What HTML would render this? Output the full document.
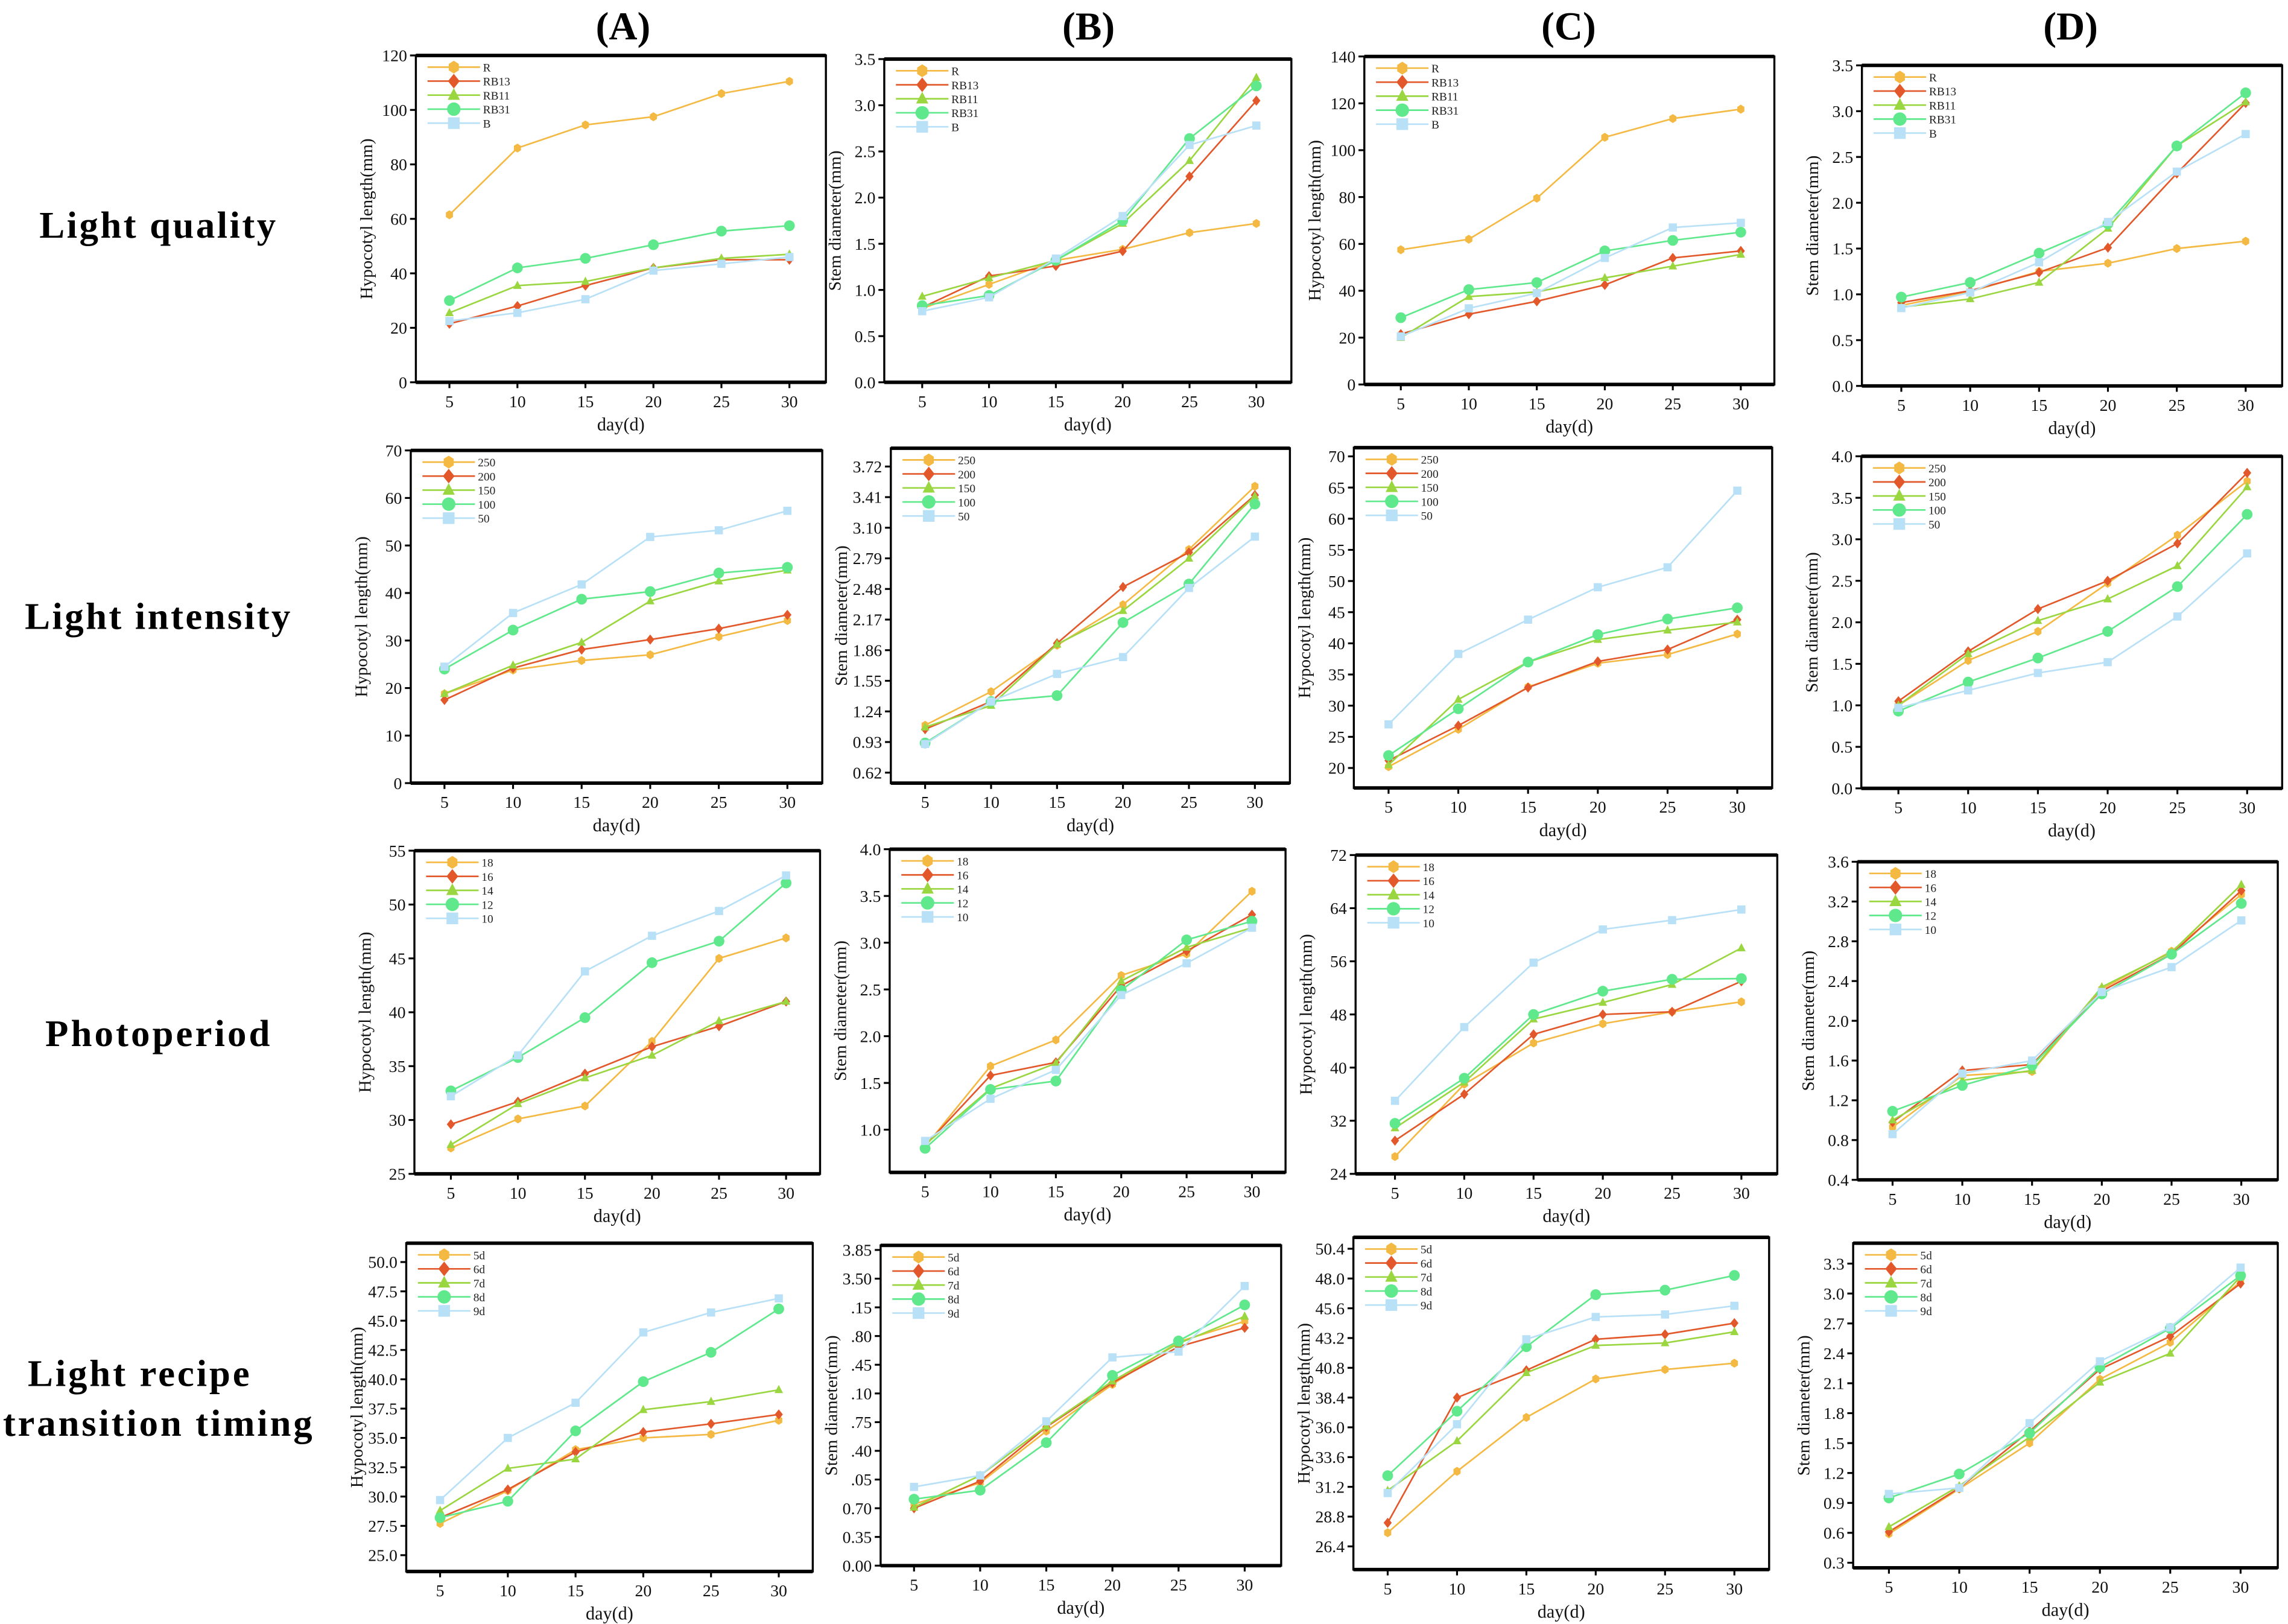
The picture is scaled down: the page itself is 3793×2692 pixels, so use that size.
<!DOCTYPE html>
<html><head><meta charset="utf-8"><style>
html,body{margin:0;padding:0;background:#fff;}
svg{display:block;}
</style></head><body>
<svg id="fig" xmlns="http://www.w3.org/2000/svg" width="3793" height="2692" viewBox="0 0 1568 1113" preserveAspectRatio="none">
<rect x="0" y="0" width="1568" height="1113" fill="#fff"/>
<g font-family="Liberation Serif, serif" font-weight="bold" fill="#000">
<text x="427" y="27" font-size="27" text-anchor="middle">(A)</text>
<text x="746" y="27" font-size="27" text-anchor="middle">(B)</text>
<text x="1075" y="27" font-size="27" text-anchor="middle">(C)</text>
<text x="1419" y="27" font-size="27" text-anchor="middle">(D)</text>
<text x="108" y="163" font-size="26" text-anchor="middle" textLength="162">Light quality</text>
<text x="108" y="431" font-size="26" text-anchor="middle" textLength="182">Light intensity</text>
<text x="108" y="717" font-size="26" text-anchor="middle" textLength="154">Photoperiod</text>
<text x="95" y="950" font-size="26" text-anchor="middle" textLength="152">Light recipe</text>
<text x="108" y="984" font-size="26" text-anchor="middle" textLength="212">transition timing</text>
</g>
<g id="charts"></g>
</svg>
<script>
// ===== shared categories =====
const days = [5, 10, 15, 20, 25, 30];
const colors = ['#f4b942', '#e2582a', '#9ad640', '#5fe88c', '#b8e0f6'];
const legend_quality = ['R', 'RB13', 'RB11', 'RB31', 'B'];
const legend_intensity = ['250', '200', '150', '100', '50'];
const legend_photo = ['18', '16', '14', '12', '10'];
const legend_timing = ['5d', '6d', '7d', '8d', '9d'];

// ===== Row 1: light quality =====
const q_hyp1 = [[61.5,86,94.5,97.5,106,110.5],[21.5,28,35.5,42,45,45],[25.5,35.5,37,42,45.5,47],[30,42,45.5,50.5,55.5,57.5],[22.5,25.5,30.5,41,43.5,46]];
const q_hyp1_ticks = ['0','20','40','60','80','100','120'];
const q_stem1 = [[0.80,1.06,1.32,1.44,1.62,1.72],[0.81,1.15,1.26,1.42,2.23,3.05],[0.93,1.13,1.32,1.72,2.40,3.30],[0.83,0.94,1.32,1.75,2.64,3.21],[0.77,0.92,1.34,1.80,2.57,2.78]];
const q_stem1_ticks = ['0.0','0.5','1.0','1.5','2.0','2.5','3.0','3.5'];
const q_hyp2 = [[57.5,62,79.5,105.5,113.5,117.5],[21.5,30,35.5,42.5,54,57],[20,37.5,39.5,45.5,50.5,55.5],[28.5,40.5,43.5,57,61.5,65],[20.5,32.5,39,54,67,69]];
const q_hyp2_ticks = ['0','20','40','60','80','100','120','140'];
const q_stem2 = [[0.88,1.03,1.25,1.34,1.50,1.58],[0.91,1.04,1.24,1.51,2.32,3.09],[0.86,0.95,1.13,1.72,2.62,3.10],[0.97,1.13,1.45,1.77,2.62,3.20],[0.85,1.02,1.35,1.79,2.34,2.75]];
const q_stem2_ticks = ['0.0','0.5','1.0','1.5','2.0','2.5','3.0','3.5'];

// ===== Row 2: light intensity =====
const i_hyp1 = [[18.8,23.8,25.8,27,30.8,34.2],[17.5,24.2,28.1,30.2,32.5,35.4],[18.8,24.8,29.6,38.3,42.5,44.8],[24,32.2,38.7,40.3,44.2,45.4],[24.5,35.8,41.8,51.8,53.2,57.3]];
const i_hyp1_ticks = ['0','10','20','30','40','50','60','70'];
const i_stem1 = [[1.10,1.44,1.91,2.32,2.88,3.52],[1.06,1.34,1.93,2.50,2.85,3.43],[1.08,1.30,1.92,2.26,2.79,3.42],[0.92,1.34,1.40,2.14,2.53,3.34],[0.91,1.34,1.62,1.79,2.49,3.01]];
const i_stem1_ticks = ['0.62','0.93','1.24','1.55','1.86','2.17','2.48','2.79','3.10','3.41','3.72'];
const i_hyp2 = [[20.2,26.2,33,36.8,38.2,41.5],[21.2,26.8,32.9,37.1,39,43.8],[20.5,31,37,40.6,42.1,43.4],[22,29.5,37,41.4,43.9,45.7],[27,38.3,43.8,49,52.2,64.5]];
const i_hyp2_ticks = ['20','25','30','35','40','45','50','55','60','65','70'];
const i_stem2 = [[1.0,1.54,1.89,2.47,3.05,3.70],[1.05,1.65,2.16,2.50,2.95,3.80],[1.0,1.62,2.02,2.28,2.68,3.63],[0.93,1.28,1.57,1.89,2.43,3.30],[0.97,1.18,1.39,1.52,2.07,2.83]];
const i_stem2_ticks = ['0.0','0.5','1.0','1.5','2.0','2.5','3.0','3.5','4.0'];

// ===== Row 3: photoperiod =====
const p_hyp1 = [[27.4,30.1,31.3,37.3,45,46.9],[29.6,31.7,34.3,36.8,38.7,41],[27.7,31.5,33.9,36,39.2,41],[32.7,35.8,39.5,44.6,46.6,52],[32.2,36,43.8,47.1,49.4,52.7]];
const p_hyp1_ticks = ['25','30','35','40','45','50','55'];
const p_stem1 = [[0.82,1.68,1.96,2.65,2.88,3.55],[0.83,1.58,1.72,2.54,2.91,3.30],[0.84,1.44,1.71,2.59,2.95,3.16],[0.80,1.43,1.52,2.49,3.03,3.23],[0.88,1.33,1.64,2.44,2.78,3.16]];
const p_stem1_ticks = ['1.0','1.5','2.0','2.5','3.0','3.5','4.0'];
const p_hyp2 = [[26.6,37.5,43.7,46.6,48.4,49.9],[29,36,45,48,48.4,53],[30.9,37.8,47.3,49.8,52.5,58],[31.6,38.4,48,51.5,53.3,53.4],[35,46.1,55.8,60.8,62.2,63.8]];
const p_hyp2_ticks = ['24','32','40','48','56','64','72'];
const p_stem2 = [[0.93,1.45,1.49,2.32,2.70,3.27],[0.98,1.50,1.56,2.30,2.67,3.31],[1.00,1.40,1.50,2.34,2.69,3.37],[1.09,1.35,1.55,2.27,2.67,3.18],[0.86,1.47,1.60,2.29,2.54,3.01]];
const p_stem2_ticks = ['0.4','0.8','1.2','1.6','2.0','2.4','2.8','3.2','3.6'];

// ===== Row 4: transition timing =====
const t_hyp1 = [[27.7,30.5,34,35,35.3,36.5],[28.2,30.6,33.8,35.5,36.2,37],[28.8,32.4,33.2,37.4,38.1,39.1],[28.2,29.6,35.6,39.8,42.3,46],[29.7,35,38,44,45.7,46.9]];
const t_hyp1_ticks = ['25.0','27.5','30.0','32.5','35.0','37.5','40.0','42.5','45.0','47.5','50.0'];
const t_stem1 = [[0.75,1.01,1.64,2.21,2.73,2.98],[0.70,1.03,1.69,2.23,2.67,2.90],[0.71,1.10,1.70,2.25,2.71,3.04],[0.81,0.92,1.50,2.32,2.74,3.18],[0.96,1.10,1.76,2.54,2.61,3.41]];
const t_stem1_ticks = ['0.00','0.35','0.70','.05','.40','.75','.10','.45','.80','.15','3.50','3.85'];
const t_hyp2 = [[27.5,32.45,36.8,39.9,40.66,41.17],[28.3,38.4,40.6,43.1,43.5,44.4],[30.9,34.9,40.4,42.6,42.8,43.7],[32.1,37.3,42.5,46.7,47.06,48.25],[30.7,36.25,43.1,44.9,45.1,45.8]];
const t_hyp2_ticks = ['26.4','28.8','31.2','33.6','36.0','38.4','40.8','43.2','45.6','48.0','50.4'];
const t_stem2 = [[0.59,1.04,1.50,2.14,2.51,3.12],[0.61,1.05,1.62,2.24,2.57,3.10],[0.66,1.07,1.56,2.11,2.40,3.17],[0.95,1.19,1.60,2.26,2.65,3.18],[0.99,1.05,1.70,2.32,2.66,3.26]];
const t_stem2_ticks = ['0.3','0.6','0.9','1.2','1.5','1.8','2.1','2.4','2.7','3.0','3.3'];

// ===== panel layout (geometry only) =====
const HYP = 'Hypocotyl length(mm)', STEM = 'Stem diameter(mm)';
const panels = [
 {id:'quality-a', L:285,R:566,T:38,B:262, x5:308,x30:541, ymin:0,ymax:120, tickStart:0,tickStep:20, ticks:q_hyp1_ticks, series:q_hyp1, legend:legend_quality, yl:HYP},
 {id:'quality-b', L:606,R:885,T:40.5,B:262, x5:632,x30:861, ymin:0,ymax:3.5, tickStart:0,tickStep:0.5, ticks:q_stem1_ticks, series:q_stem1, legend:legend_quality, yl:STEM},
 {id:'quality-c', L:935,R:1216,T:38.7,B:263.5, x5:960,x30:1193, ymin:0,ymax:140, tickStart:0,tickStep:20, ticks:q_hyp2_ticks, series:q_hyp2, legend:legend_quality, yl:HYP},
 {id:'quality-d', L:1276,R:1564,T:44.8,B:264.5, x5:1303,x30:1539, ymin:0,ymax:3.5, tickStart:0,tickStep:0.5, ticks:q_stem2_ticks, series:q_stem2, legend:legend_quality, yl:STEM},
 {id:'intensity-a', L:281.5,R:563.5,T:308.7,B:536.7, x5:304.6,x30:539.6, ymin:0,ymax:70, tickStart:0,tickStep:10, ticks:i_hyp1_ticks, series:i_hyp1, legend:legend_intensity, yl:HYP},
 {id:'intensity-b', L:610.5,R:884,T:307.2,B:536.7, x5:634,x30:860, ymin:0.514,ymax:3.905, tickStart:0.62,tickStep:0.31, ticks:i_stem1_ticks, series:i_stem1, legend:legend_intensity, yl:STEM},
 {id:'intensity-c', L:927.8,R:1214.5,T:306.8,B:540, x5:951.6,x30:1190.6, ymin:16.8,ymax:71.4, tickStart:20,tickStep:5, ticks:i_hyp2_ticks, series:i_hyp2, legend:legend_intensity, yl:HYP},
 {id:'intensity-d', L:1275.6,R:1564,T:312.7,B:540.3, x5:1301,x30:1540, ymin:0,ymax:4.0, tickStart:0,tickStep:0.5, ticks:i_stem2_ticks, series:i_stem2, legend:legend_intensity, yl:STEM},
 {id:'photoperiod-a', L:284,R:562,T:583,B:804.5, x5:309,x30:538.7, ymin:25,ymax:55, tickStart:25,tickStep:5, ticks:p_hyp1_ticks, series:p_hyp1, legend:legend_photo, yl:HYP},
 {id:'photoperiod-b', L:609.7,R:881,T:582,B:803.5, x5:634,x30:858, ymin:0.543,ymax:4.0, tickStart:1.0,tickStep:0.5, ticks:p_stem1_ticks, series:p_stem1, legend:legend_photo, yl:STEM},
 {id:'photoperiod-c', L:929,R:1218,T:586,B:804.5, x5:956,x30:1193.4, ymin:24,ymax:72, tickStart:24,tickStep:8, ticks:p_hyp2_ticks, series:p_hyp2, legend:legend_photo, yl:HYP},
 {id:'photoperiod-d', L:1273,R:1561,T:590.6,B:808.6, x5:1297,x30:1536, ymin:0.4,ymax:3.6, tickStart:0.4,tickStep:0.4, ticks:p_stem2_ticks, series:p_stem2, legend:legend_photo, yl:STEM},
 {id:'timing-a', L:278.4,R:557,T:852,B:1077, x5:301.6,x30:533.7, ymin:23.61,ymax:51.61, tickStart:25,tickStep:2.5, ticks:t_hyp1_ticks, series:t_hyp1, legend:legend_timing, yl:HYP},
 {id:'timing-b', L:603.5,R:878,T:853.5,B:1073, x5:626.4,x30:853, ymin:0,ymax:3.906, tickStart:0,tickStep:0.35, ticks:t_stem1_ticks, series:t_stem1, legend:legend_timing, yl:STEM},
 {id:'timing-c', L:927.5,R:1212.4,T:848,B:1075.7, x5:951,x30:1188.6, ymin:24.53,ymax:51.32, tickStart:26.4,tickStep:2.4, ticks:t_hyp2_ticks, series:t_hyp2, legend:legend_timing, yl:HYP},
 {id:'timing-d', L:1270,R:1561,T:852,B:1074.5, x5:1294.5,x30:1535.5, ymin:0.249,ymax:3.505, tickStart:0.3,tickStep:0.3, ticks:t_stem2_ticks, series:t_stem2, legend:legend_timing, yl:STEM}
];
const shapes = ['hex','diamond','triangle','circle','square'];
const NS = 'http://www.w3.org/2000/svg';
const root = document.getElementById('charts');

function mk(tag, attrs, parent) {
  const e = document.createElementNS(NS, tag);
  for (const k in attrs) e.setAttribute(k, attrs[k]);
  parent.appendChild(e);
  return e;
}
function markerEl(shape, x, y, s, color, parent) {
  let e;
  if (shape === 'circle') e = mk('circle', {cx:x, cy:y, r:s*1.15, fill:color}, parent);
  else if (shape === 'square') e = mk('rect', {x:x-s, y:y-s, width:2*s, height:2*s, fill:color}, parent);
  else if (shape === 'diamond') e = mk('polygon', {points:`${x},${y-s*1.25} ${x+s},${y} ${x},${y+s*1.25} ${x-s},${y}`, fill:color}, parent);
  else if (shape === 'triangle') e = mk('polygon', {points:`${x},${y-s*1.2} ${x+s*1.05},${y+s*0.8} ${x-s*1.05},${y+s*0.8}`, fill:color}, parent);
  else {
    let pts = [];
    for (let i = 0; i < 6; i++) { const a = Math.PI/6 + i*Math.PI/3; pts.push((x+s*Math.cos(a)).toFixed(2)+','+(y+s*1.1*Math.sin(a)).toFixed(2)); }
    e = mk('polygon', {points:pts.join(' '), fill:color}, parent);
  }
  return e;
}

panels.forEach(p => {
  const g = mk('g', {}, root);
  
  
  const xs = d => p.x5 + (d - 5) / 25 * (p.x30 - p.x5);
  const ys = v => p.B - (v - p.ymin) / (p.ymax - p.ymin) * (p.B - p.T);

  // series
  p.series.forEach((vals, si) => {
    const sg = mk('g', {}, g);
    
    
    const pts = vals.map((v, i) => xs(days[i]).toFixed(2) + ',' + ys(v).toFixed(2)).join(' ');
    const line = mk('polyline', {points:pts, fill:'none', stroke:colors[si], 'stroke-width':1.1}, sg);
    
    
    vals.forEach((v, i) => {
      const m = markerEl(shapes[si], xs(days[i]), ys(v), si === 3 ? 3.2 : 2.8, colors[si], sg);
      
      
    });
  });

  // frame
  const fr = mk('rect', {x:p.L, y:p.T, width:p.R-p.L, height:p.B-p.T, fill:'none', stroke:'#000', 'stroke-width':1.4}, g);
  
  
  const tb = mk('path', {d:`M${p.L},${p.T}H${p.R}M${p.L},${p.B}H${p.R}`, stroke:'#000', 'stroke-width':2.4, fill:'none'}, g);
  
  

  // y ticks
  p.ticks.forEach((lab, i) => {
    const v = p.tickStart + i * p.tickStep;
    const y = ys(v);
    const t = mk('line', {x1:p.L-4, x2:p.L, y1:y, y2:y, stroke:'#000', 'stroke-width':1.3}, g);
    
    
    const tx = mk('text', {x:p.L-6, y:y+4, 'font-size':11.5, 'text-anchor':'end', 'font-family':'Liberation Serif, serif', fill:'#111'}, g);
    tx.textContent = lab;
    
    
  });
  // x ticks
  days.forEach(d => {
    const x = xs(d);
    const t = mk('line', {x1:x, x2:x, y1:p.B, y2:p.B+4, stroke:'#000', 'stroke-width':1.3}, g);
    
    
    const tx = mk('text', {x:x, y:p.B+17, 'font-size':11.5, 'text-anchor':'middle', 'font-family':'Liberation Serif, serif', fill:'#111'}, g);
    tx.textContent = String(d);
    
    
  });
  // axis titles
  const xt = mk('text', {x:(p.L+p.R)/2, y:p.B+33, 'font-size':12.5, 'text-anchor':'middle', 'font-family':'Liberation Serif, serif', fill:'#111'}, g);
  xt.textContent = 'day(d)';
  
  
  const yc = (p.T + p.B) / 2, yx = p.L - 30;
  const yt = mk('text', {x:yx, y:yc, 'font-size':12, 'text-anchor':'middle', 'font-family':'Liberation Serif, serif', fill:'#111', transform:`rotate(-90 ${yx} ${yc})`}, g);
  yt.textContent = p.yl;
  
  

  // legend
  const lg = mk('g', {}, g);
  
  
  p.legend.forEach((name, si) => {
    const ly = p.T + 8 + si * 9.6;
    const lx = p.L + 8;
    const eg = mk('g', {}, lg);
    
    
    mk('line', {x1:lx, x2:lx+36, y1:ly, y2:ly, stroke:colors[si], 'stroke-width':1.1}, eg);
    markerEl(shapes[si], lx+18, ly, 4, colors[si], eg);
    const tx = mk('text', {x:lx+38, y:ly+3, 'font-size':8, 'font-family':'Liberation Serif, serif', fill:'#222'}, eg);
    tx.textContent = name;
  });
});
</script>
</body></html>
